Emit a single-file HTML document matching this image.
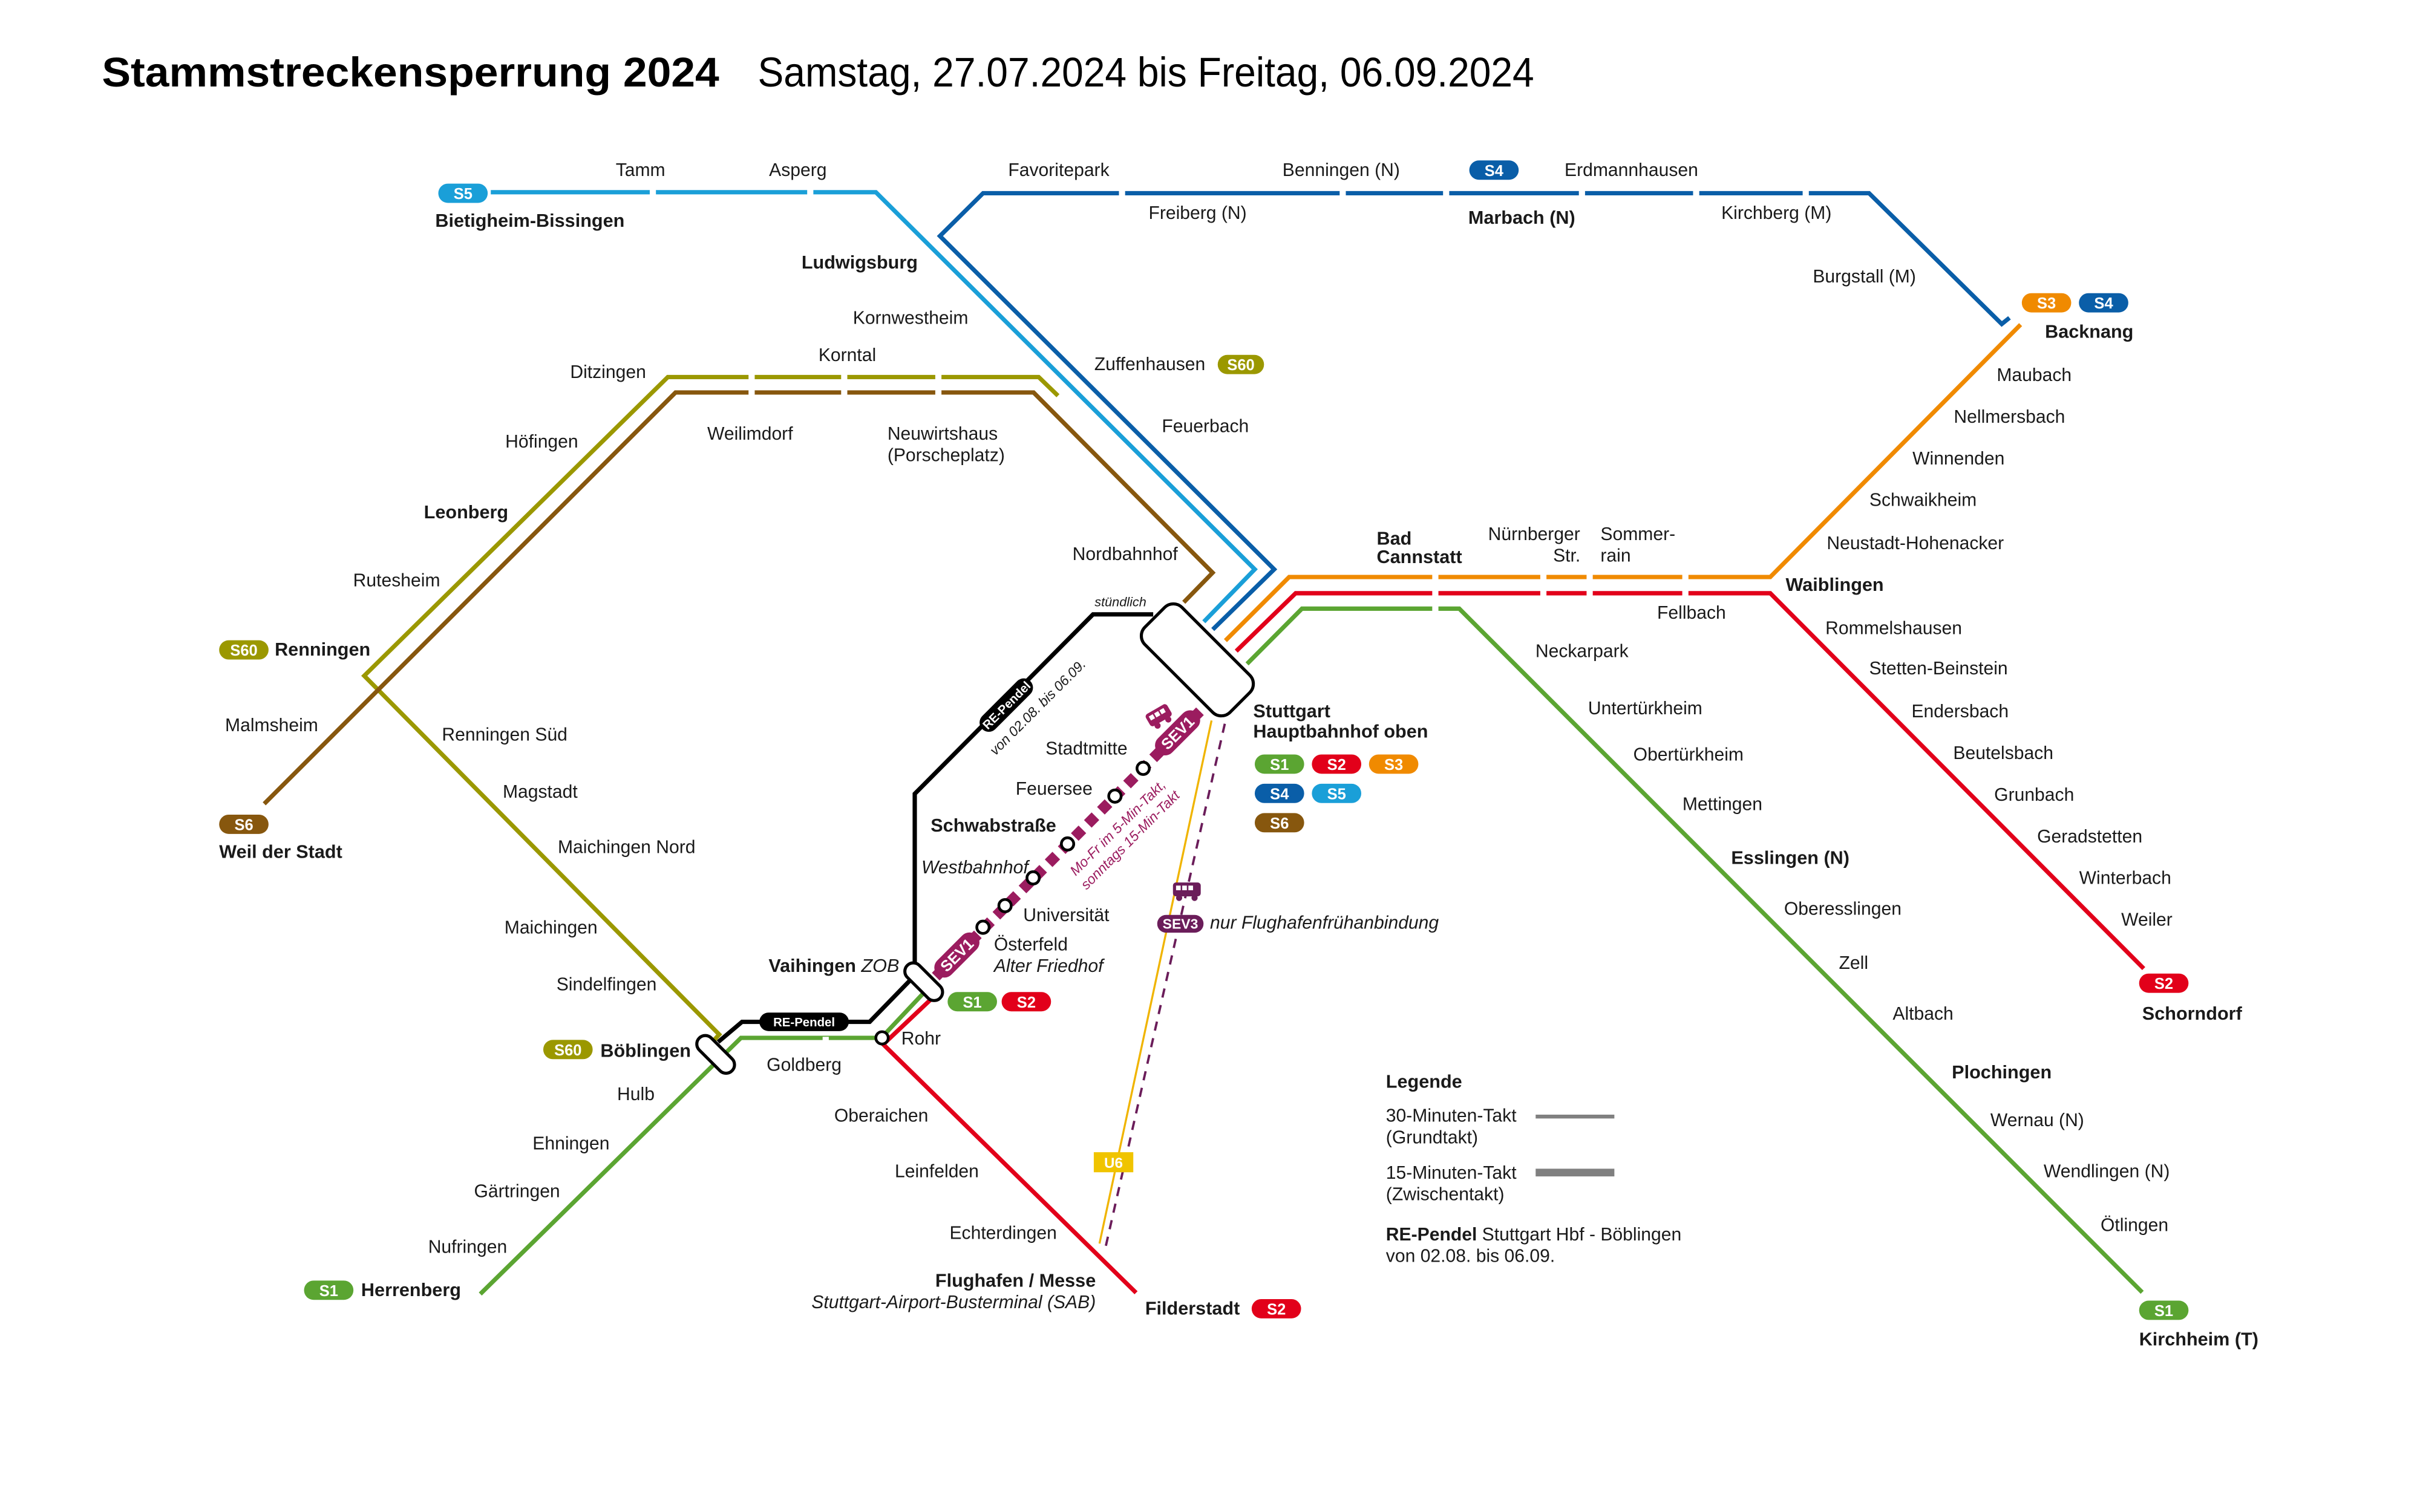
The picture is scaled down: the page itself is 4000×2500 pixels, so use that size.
<!DOCTYPE html>
<html><head><meta charset="utf-8"><style>
html,body{margin:0;padding:0;background:#fff;}
svg{display:block;}
text{font-family:"Liberation Sans",sans-serif;fill:#1a1a1a;}
.n{font-size:11.8px;}
.b{font-size:12px;font-weight:bold;}
.i{font-style:italic;}
.bt{font-size:10px;font-weight:bold;fill:#fff;text-anchor:middle;}
.m{text-anchor:middle;}
.e{text-anchor:end;}
</style></head><body>
<svg width="4000" height="2500" viewBox="0 0 1568 980" xmlns="http://www.w3.org/2000/svg">
<rect width="1568" height="980" fill="#fff"/>
<text x="66" y="56" style="font-size:27px;font-weight:bold;fill:#000" textLength="400" lengthAdjust="spacingAndGlyphs">Stammstreckensperrung 2024</text>
<text x="491" y="56" style="font-size:27px;fill:#000" textLength="503" lengthAdjust="spacingAndGlyphs">Samstag, 27.07.2024 bis Freitag, 06.09.2024</text>

<g fill="none" stroke-width="2.8" stroke-linejoin="miter">
<polyline stroke="#1a9fd8" points="318,124.6 567.5,124.6 813,369 780,403"/>
<polyline stroke="#0a5ea8" points="1302,206 1297,210 1211,125.2 637,125.2 609,153 825.6,369 785.8,408"/>
<polyline stroke="#9b9800" points="685.5,256.5 673,244.4 432.7,244.4 236,438 466,670.5 461,676"/>
<polyline stroke="#87570e" points="171.2,521 437.7,254.4 669.7,254.4 785.7,371.2 767,390.4"/>
<polyline stroke="#f08a00" points="794,415.2 835.3,374 1147,374 1309.2,210.4"/>
<polyline stroke="#e2001a" points="801,422 839.5,384.5 1147,384.5 1389,627.8"/>
<polyline stroke="#5ba532" points="808,430.3 843.6,394.5 945.5,394.5 1388,837.6"/>
<polyline stroke="#5ba532" points="311.2,838.7 480.1,672.7 571,672.7 599,643"/>
<polyline stroke="#e2001a" points="736.1,837.9 572.3,676.9 605,646"/>
<polyline stroke="#000" points="747.2,398.2 708.2,398.2 592.7,514.5 592.7,632"/>
<polyline stroke="#000" points="465.3,675.4 480.8,662.3 563.5,662.3 592,633"/>
</g>
<g stroke="#fff" stroke-width="4">
<line x1="423" y1="118" x2="423" y2="131"/><line x1="525" y1="118" x2="525" y2="131"/>
<line x1="727" y1="118" x2="727" y2="131"/><line x1="870" y1="118" x2="870" y2="131"/>
<line x1="937" y1="118" x2="937" y2="131"/><line x1="1025" y1="118" x2="1025" y2="131"/><line x1="1099" y1="118" x2="1099" y2="131"/><line x1="1170" y1="118" x2="1170" y2="131"/>
<line x1="487" y1="238" x2="487" y2="261"/><line x1="547" y1="238" x2="547" y2="261"/><line x1="608" y1="238" x2="608" y2="261"/><line x1="930" y1="368" x2="930" y2="400"/><line x1="1000" y1="368" x2="1000" y2="390"/><line x1="1030" y1="368" x2="1030" y2="390"/><line x1="1092" y1="368" x2="1092" y2="390"/>
<line x1="535" y1="672" x2="535" y2="680"/>
</g>
<line x1="785" y1="467" x2="712.4" y2="806" stroke="#f0b400" stroke-width="1.3"/>
<line x1="793.6" y1="469.1" x2="716" y2="809.8" stroke="#6b1d5a" stroke-width="1.5" stroke-dasharray="6,5"/>
<rect x="708.7" y="746.8" width="25.6" height="13" fill="#f0c400"/>
<text x="721.5" y="757" class="bt" style="font-size:9.5px">U6</text>
<line x1="777.5" y1="461" x2="606.3" y2="633" stroke="#9b1c5f" stroke-width="7" stroke-dasharray="7,5"/>
<g transform="translate(763,475) rotate(-45)"><rect x="-18" y="-6.5" width="36" height="13" rx="6.5" fill="#9b1c5f"/><text x="0" y="3.5" class="bt">SEV1</text></g>
<g transform="translate(620,619) rotate(-45)"><rect x="-18" y="-6.5" width="36" height="13" rx="6.5" fill="#9b1c5f"/><text x="0" y="3.5" class="bt">SEV1</text></g>
<g fill="#fff" stroke="#000" stroke-width="1.8">
<circle cx="740.7" cy="498" r="4"/><circle cx="722.4" cy="516" r="4"/><circle cx="691.7" cy="547" r="4"/>
<circle cx="669.4" cy="569" r="4"/><circle cx="651.2" cy="587" r="4"/><circle cx="636.9" cy="601" r="4"/>
<circle cx="571.5" cy="672.7" r="4"/>
</g>
<g fill="#fff" stroke="#000" stroke-width="2">
<rect x="-39" y="-17" width="78" height="34" rx="8" transform="translate(775.8,427.7) rotate(45)"/>
<rect x="-15" y="-5.5" width="30" height="11" rx="5.5" transform="translate(463.7,683.4) rotate(45)"/>
<rect x="-15" y="-5.5" width="30" height="11" rx="5.5" transform="translate(598.5,636.3) rotate(45)"/>
</g>
<g transform="translate(652,457) rotate(-45)"><rect x="-22" y="-6" width="44" height="12" rx="6" fill="#000"/><text x="0" y="3" class="bt" style="font-size:8px">RE-Pendel</text></g>
<text transform="translate(645,490) rotate(-45)" class="i" style="font-size:9px">von 02.08. bis 06.09.</text>
<rect x="492" y="656.3" width="58" height="12" rx="6" fill="#000"/><text x="521" y="665.3" class="bt" style="font-size:8px">RE-Pendel</text>
<text x="726" y="393" class="i m" style="font-size:8.5px">stündlich</text>
<text transform="translate(697,568) rotate(-45)" class="i" style="font-size:9px;fill:#9b1c5f">Mo-Fr im 5-Min-Takt,</text>
<text transform="translate(704,577) rotate(-45)" class="i" style="font-size:9px;fill:#9b1c5f">sonntags 15-Min-Takt</text>
<g transform="translate(751,464) rotate(-30)"><rect x="-8" y="-5" width="16" height="9" rx="2" fill="#9b1c5f"/><rect x="-6" y="-3" width="3" height="3" fill="#fff"/><rect x="-2" y="-3" width="3" height="3" fill="#fff"/><rect x="2" y="-3" width="3" height="3" fill="#fff"/><circle cx="-4" cy="5" r="2" fill="#9b1c5f"/><circle cx="4" cy="5" r="2" fill="#9b1c5f"/></g>
<g transform="translate(769,577)"><rect x="-9" y="-5" width="18" height="9" rx="2" fill="#6b1d5a"/><rect x="-7" y="-3" width="3" height="3" fill="#fff"/><rect x="-3" y="-3" width="3" height="3" fill="#fff"/><rect x="1" y="-3" width="3" height="3" fill="#fff"/><circle cx="-5" cy="5" r="2" fill="#6b1d5a"/><circle cx="5" cy="5" r="2" fill="#6b1d5a"/></g>
<rect x="749.8" y="593" width="30" height="11.5" rx="5.7" fill="#6b1d5a"/><text x="764.8" y="602" class="bt" style="font-size:9px">SEV3</text>
<text x="784" y="602" class="n i">nur Flughafenfrühanbindung</text>

<g>
<rect x="284" y="119" width="32" height="12.5" rx="6.2" fill="#1a9fd8"/><text x="300" y="129" class="bt">S5</text>
<rect x="789" y="230" width="30" height="12.5" rx="6.2" fill="#9b9800"/><text x="804" y="240" class="bt">S60</text>
<rect x="952" y="104" width="32" height="12.5" rx="6.2" fill="#0a5ea8"/><text x="968" y="114" class="bt">S4</text>
<rect x="1310" y="190" width="32" height="12.5" rx="6.2" fill="#f08a00"/><text x="1326" y="200" class="bt">S3</text>
<rect x="1347" y="190" width="32" height="12.5" rx="6.2" fill="#0a5ea8"/><text x="1363" y="200" class="bt">S4</text>
<rect x="142" y="415" width="32" height="12.5" rx="6.2" fill="#9b9800"/><text x="158" y="425" class="bt">S60</text>
<rect x="142" y="528" width="32" height="12.5" rx="6.2" fill="#87570e"/><text x="158" y="538" class="bt">S6</text>
<rect x="813" y="489" width="32" height="12.5" rx="6.2" fill="#5ba532"/><text x="829" y="499" class="bt">S1</text>
<rect x="850" y="489" width="32" height="12.5" rx="6.2" fill="#e2001a"/><text x="866" y="499" class="bt">S2</text>
<rect x="887" y="489" width="32" height="12.5" rx="6.2" fill="#f08a00"/><text x="903" y="499" class="bt">S3</text>
<rect x="813" y="508" width="32" height="12.5" rx="6.2" fill="#0a5ea8"/><text x="829" y="518" class="bt">S4</text>
<rect x="850" y="508" width="32" height="12.5" rx="6.2" fill="#1a9fd8"/><text x="866" y="518" class="bt">S5</text>
<rect x="813" y="527" width="32" height="12.5" rx="6.2" fill="#87570e"/><text x="829" y="537" class="bt">S6</text>
<rect x="614" y="643" width="32" height="12.5" rx="6.2" fill="#5ba532"/><text x="630" y="653" class="bt">S1</text>
<rect x="649" y="643" width="32" height="12.5" rx="6.2" fill="#e2001a"/><text x="665" y="653" class="bt">S2</text>
<rect x="352" y="674" width="32" height="12.5" rx="6.2" fill="#9b9800"/><text x="368" y="684" class="bt">S60</text>
<rect x="197" y="830" width="32" height="12.5" rx="6.2" fill="#5ba532"/><text x="213" y="840" class="bt">S1</text>
<rect x="811" y="842" width="32" height="12.5" rx="6.2" fill="#e2001a"/><text x="827" y="852" class="bt">S2</text>
<rect x="1386" y="631" width="32" height="12.5" rx="6.2" fill="#e2001a"/><text x="1402" y="641" class="bt">S2</text>
<rect x="1386" y="843" width="32" height="12.5" rx="6.2" fill="#5ba532"/><text x="1402" y="853" class="bt">S1</text>
</g>

<g class="n">
<text x="415" y="114" class="m">Tamm</text>
<text x="517" y="114" class="m">Asperg</text>
<text x="686" y="114" class="m">Favoritepark</text>
<text x="869" y="114" class="m">Benningen (N)</text>
<text x="1057" y="114" class="m">Erdmannhausen</text>
<text x="776" y="142" class="m">Freiberg (N)</text>
<text x="1151" y="142" class="m">Kirchberg (M)</text>
<text x="1208" y="183" class="m">Burgstall (M)</text>
<text x="590" y="210" class="m">Kornwestheim</text>
<text x="549" y="234" class="m">Korntal</text>
<text x="394" y="245" class="m">Ditzingen</text>
<text x="745" y="240" class="m">Zuffenhausen</text>
<text x="486" y="285" class="m">Weilimdorf</text>
<text x="575" y="285">Neuwirtshaus</text>
<text x="575" y="299">(Porscheplatz)</text>
<text x="781" y="280" class="m">Feuerbach</text>
<text x="351" y="290" class="m">Höfingen</text>
<text x="729" y="363" class="m">Nordbahnhof</text>
<text x="257" y="380" class="m">Rutesheim</text>
<text x="176" y="474" class="m">Malmsheim</text>
<text x="327" y="480" class="m">Renningen Süd</text>
<text x="350" y="517" class="m">Magstadt</text>
<text x="406" y="553" class="m">Maichingen Nord</text>
<text x="357" y="605" class="m">Maichingen</text>
<text x="393" y="642" class="m">Sindelfingen</text>
<text x="521" y="694" class="m">Goldberg</text>
<text x="412" y="713" class="m">Hulb</text>
<text x="370" y="745" class="m">Ehningen</text>
<text x="335" y="776" class="m">Gärtringen</text>
<text x="303" y="812" class="m">Nufringen</text>
<text x="571" y="727" class="m">Oberaichen</text>
<text x="607" y="763" class="m">Leinfelden</text>
<text x="650" y="803" class="m">Echterdingen</text>
<text x="584" y="677">Rohr</text>
<text x="704" y="489" class="m">Stadtmitte</text>
<text x="683" y="515" class="m">Feuersee</text>
<text x="663" y="597">Universität</text>
<text x="644" y="616">Österfeld</text>
<text x="644" y="630" class="i">Alter Friedhof</text>
<text x="597" y="566" class="i">Westbahnhof</text>
<text x="1025" y="426" class="m">Neckarpark</text>
<text x="1066" y="463" class="m">Untertürkheim</text>
<text x="1094" y="493" class="m">Obertürkheim</text>
<text x="1116" y="525" class="m">Mettingen</text>
<text x="1194" y="593" class="m">Oberesslingen</text>
<text x="1201" y="628" class="m">Zell</text>
<text x="1246" y="661" class="m">Altbach</text>
<text x="1320" y="730" class="m">Wernau (N)</text>
<text x="1365" y="763" class="m">Wendlingen (N)</text>
<text x="1383" y="798" class="m">Ötlingen</text>
<text x="1096" y="401" class="m">Fellbach</text>
<text x="994" y="350" class="m">Nürnberger</text>
<text x="1024" y="364" class="e">Str.</text>
<text x="1037" y="350">Sommer-</text>
<text x="1037" y="364">rain</text>
<text x="1318" y="247" class="m">Maubach</text>
<text x="1302" y="274" class="m">Nellmersbach</text>
<text x="1269" y="301" class="m">Winnenden</text>
<text x="1246" y="328" class="m">Schwaikheim</text>
<text x="1241" y="356" class="m">Neustadt-Hohenacker</text>
<text x="1227" y="411" class="m">Rommelshausen</text>
<text x="1256" y="437" class="m">Stetten-Beinstein</text>
<text x="1270" y="465" class="m">Endersbach</text>
<text x="1298" y="492" class="m">Beutelsbach</text>
<text x="1318" y="519" class="m">Grunbach</text>
<text x="1354" y="546" class="m">Geradstetten</text>
<text x="1377" y="573" class="m">Winterbach</text>
<text x="1391" y="600" class="m">Weiler</text>
</g>
<g class="b">
<text x="282" y="147">Bietigheim-Bissingen</text>
<text x="557" y="174" class="m">Ludwigsburg</text>
<text x="986" y="145" class="m">Marbach (N)</text>
<text x="1325" y="219">Backnang</text>
<text x="302" y="336" class="m">Leonberg</text>
<text x="178" y="425">Renningen</text>
<text x="142" y="556">Weil der Stadt</text>
<text x="892" y="353">Bad</text>
<text x="892" y="365">Cannstatt</text>
<text x="1157" y="383">Waiblingen</text>
<text x="812" y="465">Stuttgart</text>
<text x="812" y="478">Hauptbahnhof oben</text>
<text x="603" y="539">Schwabstraße</text>
<text x="1160" y="560" class="m">Esslingen (N)</text>
<text x="1297" y="699" class="m">Plochingen</text>
<text x="498" y="630">Vaihingen <tspan style="font-weight:normal;font-style:italic">ZOB</tspan></text>
<text x="389" y="685">Böblingen</text>
<text x="234" y="840">Herrenberg</text>
<text x="710" y="834" class="e">Flughafen / Messe</text>
<text x="742" y="852">Filderstadt</text>
<text x="1388" y="661">Schorndorf</text>
<text x="1386" y="872">Kirchheim (T)</text>
<text x="898" y="705">Legende</text>
</g>
<text x="710" y="848" class="n i e">Stuttgart-Airport-Busterminal (SAB)</text>
<g class="n">
<text x="898" y="727">30-Minuten-Takt</text>
<text x="898" y="741">(Grundtakt)</text>
<text x="898" y="764">15-Minuten-Takt</text>
<text x="898" y="778">(Zwischentakt)</text>
<text x="898" y="804"><tspan font-weight="bold">RE-Pendel</tspan> Stuttgart Hbf - Böblingen</text>
<text x="898" y="818">von 02.08. bis 06.09.</text>
</g>
<line x1="995" y1="723.7" x2="1046" y2="723.7" stroke="#808080" stroke-width="2.5"/>
<line x1="995" y1="760" x2="1046" y2="760" stroke="#808080" stroke-width="5"/>
</svg>
</body></html>
